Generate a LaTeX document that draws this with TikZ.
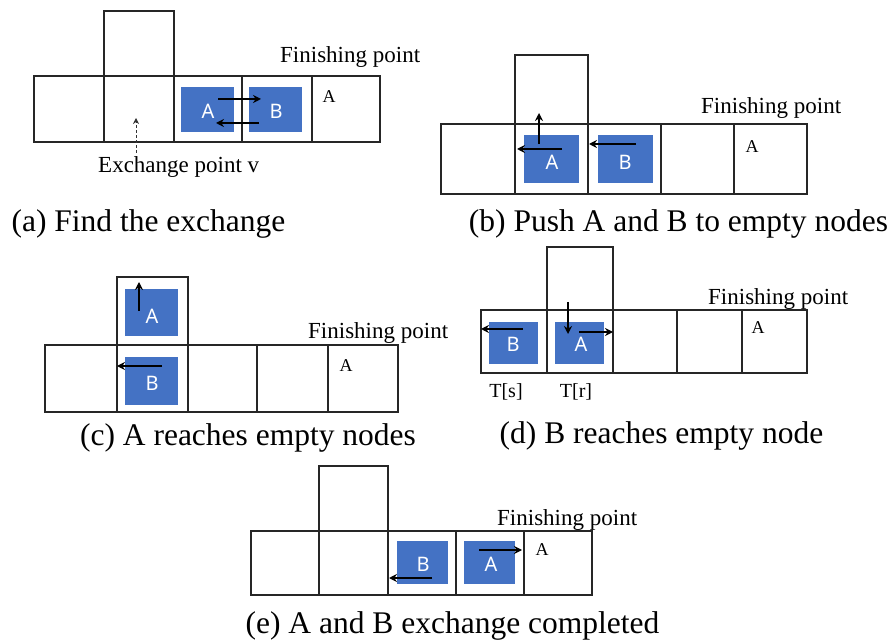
\documentclass[tikz,border=0pt]{standalone}
\usepackage{fontspec}
\setmainfont{Liberation Serif}
\newfontfamily\lblfont{Noto Sans}
\usetikzlibrary{arrows.meta}
\definecolor{agblue}{HTML}{4472C4}
\tikzset{
  cellline/.style={draw=black!85, line width=1.4pt},
  agent/.style={fill=agblue, draw=none},
  agtext/.style={font=\lblfont\fontsize{20}{20}\selectfont, text=white, inner sep=0pt},
  mv/.style={line width=2pt, -{Stealth[length=8pt,width=8pt]}},
  fin/.style={font=\fontsize{23}{23}\selectfont, anchor=base west, inner sep=0pt},
  goal/.style={font=\fontsize{18}{18}\selectfont, inner sep=0pt},
  captext/.style={font=\fontsize{31.5}{31.5}\selectfont, anchor=base, inner sep=0pt},
  small/.style={font=\fontsize{20}{20}\selectfont, inner sep=0pt}
}
\begin{document}
\begin{tikzpicture}[x=1pt,y=-1pt]
\useasboundingbox (0,0) rectangle (895,644);
% ---------- (a) ----------
\draw[cellline] (104,11) rectangle (174,76);
\foreach \xa/\xb in {34/104,104/174,174/242,242/312,312/380}
  \draw[cellline] (\xa,76) rectangle (\xb,142);
\fill[agent] (181,87) rectangle (234,132);
\fill[agent] (249,87) rectangle (302,132);
\node[agtext] (aA) at (208,111) {A};
\node[agtext] (aB) at (276,111) {B};
\draw[mv] (218,99) -- (261,99);
\draw[mv] (259,123) -- (216,123);
\node[goal] (aG) at (329,97) {A};
\node[fin] (aF) at (280,63) {Finishing point};
\node[fin] (aX) at (98,173) {Exchange point v};
\draw[black!80, line width=1pt, densely dashed, -{Stealth[length=6pt,width=6pt]}] (136,153) -- (136,118);
\node[captext] (aC) at (148.5,232) {(a) Find the exchange};
% ---------- (b) ----------
\draw[cellline] (515,55) rectangle (588,124);
\foreach \xa/\xb in {441/515,515/588,588/661,661/734,734/807}
  \draw[cellline] (\xa,124) rectangle (\xb,194);
\fill[agent] (524,135) rectangle (579,183);
\fill[agent] (598,135) rectangle (653,183);
\node[agtext] (bA) at (552,162) {A};
\node[agtext] (bB) at (625,162) {B};
\draw[mv] (539,144) -- (539,113);
\draw[mv] (562,149) -- (517,149);
\draw[mv] (636,144) -- (589,144);
\node[goal] (bG) at (752,147) {A};
\node[fin] (bF) at (701,114) {Finishing point};
\node[captext] (bC) at (678.5,232) {(b) Push A and B to empty nodes};
% ---------- (c) ----------
\draw[cellline] (117,277) rectangle (188,345);
\foreach \xa/\xb in {45/117,117/188,188/257,257/328,328/398}
  \draw[cellline] (\xa,345) rectangle (\xb,412);
\fill[agent] (125,289) rectangle (178,336);
\fill[agent] (125,357) rectangle (178,405);
\node[agtext] (cA) at (152,316) {A};
\node[agtext] (cB) at (152,383) {B};
\draw[mv] (139,311) -- (139,282);
\draw[mv] (162,366) -- (117,366);
\node[goal] (cG) at (346,366) {A};
\node[fin] (cF) at (308,339) {Finishing point};
\node[captext] (cC) at (248,446) {(c) A reaches empty nodes};
% ---------- (d) ----------
\draw[cellline] (547,247) rectangle (613,310);
\foreach \xa/\xb in {481/547,547/613,613/677,677/742,742/807}
  \draw[cellline] (\xa,310) rectangle (\xb,373);
\fill[agent] (489,322) rectangle (538,364);
\fill[agent] (555,322) rectangle (604,364);
\node[agtext] (dB) at (513,344) {B};
\node[agtext] (dA) at (581,344) {A};
\draw[mv] (523,329) -- (481,329);
\draw[mv] (568,302) -- (568,334);
\draw[mv] (579,332) -- (613,332);
\node[goal] (dG) at (758,328) {A};
\node[fin] (dF) at (708,305) {Finishing point};
\node[small] (dTs) at (506,392) {T[s]};
\node[small] (dTr) at (576,392) {T[r]};
\node[captext] (dC) at (661.5,444) {(d) B reaches empty node};
% ---------- (e) ----------
\draw[cellline] (319,466) rectangle (388,531);
\foreach \xa/\xb in {251/319,319/388,388/456,456/524,524/592}
  \draw[cellline] (\xa,531) rectangle (\xb,595);
\fill[agent] (397,541) rectangle (448,584);
\fill[agent] (464,541) rectangle (515,584);
\node[agtext] (eB) at (423,564) {B};
\node[agtext] (eA) at (491,564) {A};
\draw[mv] (479,550) -- (522,550);
\draw[mv] (432,578) -- (389,578);
\node[goal] (eG) at (542,550) {A};
\node[fin] (eF) at (497,525) {Finishing point};
\node[captext] (eC) at (452.5,633) {(e) A and B exchange completed};
\end{tikzpicture}
\end{document}
